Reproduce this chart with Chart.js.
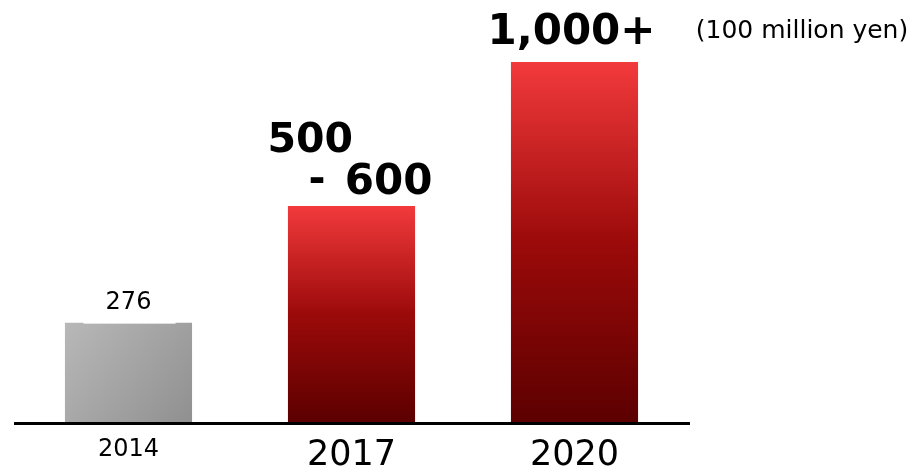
<!DOCTYPE html>
<html>
<head>
<meta charset="utf-8">
<script src="https://cdn.jsdelivr.net/npm/chart.js@4"></script>
<style>
  html, body { margin: 0; padding: 0; background: #fff; }
  #wrap { width: 918px; height: 472px; position: relative; }
</style>
</head>
<body>
<div id="wrap"><canvas id="salesChart"></canvas></div>
<script>
// Data
const years = ['2014', '2017', '2020'];
const values = [276, 600, 1000];
const valueLabels = [['276'], ['500', '-', '600'], ['1,000+']];
const unitLabel = '(100 million yen)';

const FONT = '"DejaVu Sans", Verdana, sans-serif';

// Gradient per bar: grey for the actual year, red for the targets
function barFill(ctx) {
    const chart = ctx.chart;
    const area = chart.chartArea;
    if (!area || ctx.dataIndex === undefined) return '#b0b0b0';
    const c = chart.ctx;
    const yScale = chart.scales.y;
    const top = yScale.getPixelForValue(values[ctx.dataIndex]);
    const bottom = yScale.getPixelForValue(0);
    if (ctx.dataIndex === 0) {
        const cx = chart.scales.x.getPixelForValue(0);
        const g = c.createLinearGradient(cx - 64, top, cx + 64, bottom);
        g.addColorStop(0, '#b8b8b8');
        g.addColorStop(1, '#909090');
        return g;
    }
    const g = c.createLinearGradient(0, top, 0, bottom);
    g.addColorStop(0, '#f23a3c');
    g.addColorStop(0.5, '#9c0a0a');
    g.addColorStop(1, '#5c0000');
    return g;
}

// Draws the baseline, the value labels above the bars and the unit note
const labelPlugin = {
    id: 'valueLabels',
    afterDatasetsDraw(chart) {
        const c = chart.ctx;
        const area = chart.chartArea;
        const bars = chart.getDatasetMeta(0).data;
        c.save();

        // baseline, a little wider than the plot area
        c.strokeStyle = '#000';
        c.lineWidth = 3;
        c.beginPath();
        c.moveTo(area.left - 3, area.bottom + 1.5);
        c.lineTo(area.right + 4, area.bottom + 1.5);
        c.stroke();

        c.textBaseline = 'middle';

        // 2014: plain label on a white patch
        const b0 = bars[0];
        c.fillStyle = '#fff';
        c.fillRect(b0.x - 45, b0.y - 43, 92, 44);
        c.fillStyle = '#000';
        c.font = '24px ' + FONT;
        c.textAlign = 'center';
        c.fillText(valueLabels[0][0], b0.x, b0.y - 20);

        // 2017: range on two lines
        const b1 = bars[1];
        c.font = 'bold 41px ' + FONT;
        c.textAlign = 'left';
        c.fillText(valueLabels[1][0], b1.x - 84, b1.y - 65);
        c.fillText(valueLabels[1][1], b1.x - 43, b1.y - 25);
        c.font = 'bold 42px ' + FONT;
        c.textAlign = 'right';
        c.fillText(valueLabels[1][2], b1.x + 81, b1.y - 23);

        // 2020
        const b2 = bars[2];
        c.textAlign = 'center';
        c.fillText(valueLabels[2][0], b2.x - 3, b2.y - 29);

        // unit
        c.font = '25px ' + FONT;
        c.fillText(unitLabel, area.right + 116, b2.y - 31);
        c.restore();
    }
};

const chart = new Chart(document.getElementById('salesChart'), {
    type: 'bar',
    data: {
        labels: years,
        datasets: [{
            data: values,
            backgroundColor: barFill,
            borderWidth: 0,
            categoryPercentage: 1,
            barPercentage: 0.57
        }]
    },
    options: {
        responsive: true,
        maintainAspectRatio: false,
        animation: false,
        layout: {
            padding: { top: 62, left: 17, right: 232, bottom: 0 }
        },
        plugins: {
            legend: { display: false },
            tooltip: { enabled: false }
        },
        scales: {
            x: {
                grid: { display: false, drawTicks: false },
                border: { display: false },
                ticks: {
                    color: '#000',
                    padding: 13,
                    font: ctx => ({ family: FONT, size: ctx.index === 0 ? 24 : 35 })
                },
                afterFit(scale) {
                    scale.height = 50;
                }
            },
            y: {
                display: false,
                min: 0,
                max: 1000
            }
        }
    },
    plugins: [labelPlugin]
});
</script>
</body>
</html>
